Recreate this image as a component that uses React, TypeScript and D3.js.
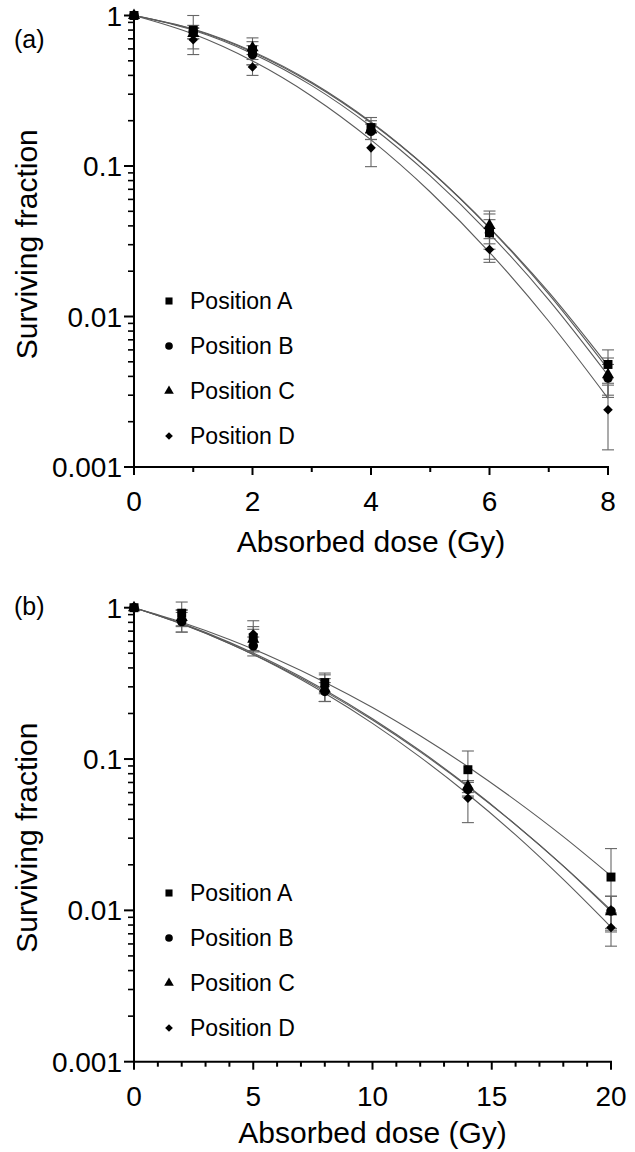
import * as d3 from 'd3';
import React from 'react';

// panel (a): doses up to 8 Gy
const dosesA = [0, 1, 2, 4, 6, 8];
const sfA = {
  A: [1, 0.80, 0.59, 0.18, 0.036, 0.0048],
  B: [1, 0.78, 0.55, 0.17, 0.036, 0.0039],
  C: [1, 0.76, 0.61, 0.175, 0.0403, 0.0041],
  D: [1, 0.69, 0.455, 0.132, 0.0279, 0.0024],
};
const errA = {
  A: [0, 0.20, 0.12, 0.03, 0.012, 0.0012],
  B: [0, 0.08, 0.08, 0.02, 0.008, 0.0009],
  C: [0, 0.06, 0.06, 0.025, 0.0099, 0.0012],
  D: [0, 0.14, 0.055, 0.033, 0.005, 0.0011],
};
const fitDosesA = [0, 1, 2, 3, 4, 5, 6, 7, 8];
const fitA = {
  A: [1, 0.807, 0.571, 0.355, 0.194, 0.093, 0.039, 0.0145, 0.0047],
  B: [1, 0.798, 0.558, 0.342, 0.183, 0.086, 0.0356, 0.0129, 0.00407],
  C: [1, 0.813, 0.578, 0.360, 0.196, 0.093, 0.0387, 0.0141, 0.00448],
  D: [1, 0.753, 0.499, 0.291, 0.149, 0.0672, 0.0267, 0.0093, 0.00286],
};

// panel (b): doses up to 20 Gy
const dosesB = [0, 2, 5, 8, 14, 20];
const sfB = {
  A: [1, 0.92, 0.63, 0.32, 0.085, 0.0166],
  B: [1, 0.81, 0.56, 0.28, 0.063, 0.0099],
  C: [1, 0.86, 0.62, 0.29, 0.066, 0.0098],
  D: [1, 0.83, 0.67, 0.30, 0.055, 0.0077],
};
const errB = {
  A: [0, 0.17, 0.12, 0.05, 0.028, 0.009],
  B: [0, 0.12, 0.08, 0.04, 0.007, 0.0025],
  C: [0, 0.10, 0.10, 0.05, 0.006, 0.0026],
  D: [0, 0.14, 0.15, 0.06, 0.017, 0.0019],
};
const fitDosesB = [0, 2, 4, 6, 8, 10, 12, 14, 16, 18, 20];
const fitB = {
  A: [1, 0.802, 0.617, 0.455, 0.322, 0.219, 0.1424, 0.089, 0.0533, 0.0307, 0.0169],
  B: [1, 0.788, 0.590, 0.421, 0.286, 0.1845, 0.1134, 0.0663, 0.0369, 0.0196, 0.00985],
  C: [1, 0.781, 0.581, 0.413, 0.280, 0.181, 0.1115, 0.0656, 0.0368, 0.0197, 0.01005],
  D: [1, 0.783, 0.581, 0.409, 0.272, 0.172, 0.103, 0.0585, 0.0315, 0.016, 0.00775],
};

const positions = ['A', 'B', 'C', 'D'];
const markerOrder = ['C', 'D', 'B', 'A']; // which marker ends up on top
const legendLabels = ['Position A', 'Position B', 'Position C', 'Position D'];
const yTickLabels = ['0.001', '0.01', '0.1', '1'];

const font = '"Liberation Sans", Arial, Helvetica, sans-serif';

// diamond is drawn as a square turned by 45deg
const symbolTypes = {
  A: d3.symbolSquare,
  B: d3.symbolCircle,
  C: d3.symbolTriangle,
  D: d3.symbolSquare,
};
const symbolRot = { A: 0, B: 0, C: 0, D: 45 };
const markerSize = { A: 80, B: 72, C: 64, D: 46 };
const legendSize = { A: 50, B: 46, C: 40, D: 30 };

function Panel({ label, top, bottom, xMax, xRight, xMajor, xMinor, doses, sf, err, fitDoses, fit, legendTop, labelY, titleOffset }) {
  const x = d3.scaleLinear().domain([0, xMax]).range([134, xRight]);
  const y = d3.scaleLog().domain([0.001, 1]).range([bottom, top]);

  const line = (vals) => d3.line()
    .x((d, i) => x(fitDoses[i]))
    .y(d => y(d))
    .curve(d3.curveMonotoneX)(vals);

  const majorY = [0.001, 0.01, 0.1, 1];
  const minorY = [];
  [0.001, 0.01, 0.1].forEach(dec => {
    for (let k = 2; k <= 9; k++) minorY.push(dec * k);
  });

  const xTicks = d3.range(0, xMax + 0.001, xMinor);

  return (
    <g>
      <text x={14} y={labelY} fontSize={25} fontFamily={font}>{label}</text>

      {/* fitted curves */}
      {positions.map(p => (
        <path key={'f' + p} d={line(fit[p])} fill="none" stroke="#5a5a5a" strokeWidth={1.1} />
      ))}

      {/* error bars */}
      {positions.map(p => (
        <g key={'e' + p} stroke="#666" strokeWidth={1.1}>
          {doses.map((d, i) => {
            if (!err[p][i]) return null;
            const hi = sf[p][i] + err[p][i];
            const lo = Math.max(sf[p][i] - err[p][i], 0.0011);
            return (
              <g key={i}>
                <line x1={x(d)} x2={x(d)} y1={y(hi)} y2={y(lo)} />
                <line x1={x(d) - 6} x2={x(d) + 6} y1={y(hi)} y2={y(hi)} />
                <line x1={x(d) - 6} x2={x(d) + 6} y1={y(lo)} y2={y(lo)} />
              </g>
            );
          })}
        </g>
      ))}

      {/* markers */}
      {markerOrder.map(p => (
        <g key={'m' + p}>
          {doses.map((d, i) => (
            <path key={i}
              transform={`translate(${x(d)},${y(sf[p][i])}) rotate(${symbolRot[p]})`}
              d={d3.symbol().type(symbolTypes[p]).size(markerSize[p])()}
              fill="#000" />
          ))}
        </g>
      ))}

      {/* axes */}
      <line x1={x(0)} x2={x(0)} y1={y(1) - 3} y2={y(0.001) + 1} stroke="#000" strokeWidth={2} />
      <line x1={x(0) - 1} x2={x(xMax) + 1} y1={y(0.001)} y2={y(0.001)} stroke="#000" strokeWidth={2} />
      {majorY.map((v, i) => (
        <g key={'my' + v}>
          <line x1={x(0) - 10} x2={x(0)} y1={y(v)} y2={y(v)} stroke="#000" strokeWidth={2} />
          <text x={122} y={y(v)} dy="0.36em" textAnchor="end" fontSize={28} fontFamily={font}>{yTickLabels[i]}</text>
        </g>
      ))}
      {minorY.map(v => (
        <line key={'ny' + v} x1={x(0) - 6} x2={x(0)} y1={y(v)} y2={y(v)} stroke="#000" strokeWidth={1.6} />
      ))}
      {xTicks.map(v => {
        const major = Math.abs(v % xMajor) < 1e-6;
        return (
          <g key={'x' + v}>
            <line x1={x(v)} x2={x(v)} y1={y(0.001)} y2={y(0.001) + (major ? 8 : 5)} stroke="#000" strokeWidth={2} />
            {major && (
              <text x={x(v)} y={y(0.001) + 44} textAnchor="middle" fontSize={28} fontFamily={font}>{v}</text>
            )}
          </g>
        );
      })}
      <text x={(x(0) + x(xMax)) / 2} y={y(0.001) + titleOffset} textAnchor="middle" fontSize={30} fontFamily={font}>Absorbed dose (Gy)</text>
      <text transform={`translate(37,${(top + bottom) / 2 + 3}) rotate(-90)`} textAnchor="middle" fontSize={30} fontFamily={font}>Surviving fraction</text>

      {/* legend */}
      {positions.map((p, i) => (
        <g key={'l' + p} transform={`translate(169,${legendTop + i * 45})`}>
          <path transform={`rotate(${symbolRot[p]})`} d={d3.symbol().type(symbolTypes[p]).size(legendSize[p])()} fill="#000" />
          <text x={21} y={0} dy="0.36em" fontSize={23} fontFamily={font}>{legendLabels[i]}</text>
        </g>
      ))}
    </g>
  );
}

export default function App() {
  return (
    <svg width={635} height={1152} style={{ position: 'absolute', left: 0, top: 0, background: '#fff' }}>
      <rect width={635} height={1152} fill="#fff" />
      <Panel label="(a)" top={15.5} bottom={467} xMax={8} xRight={608} xMajor={2} xMinor={1}
        doses={dosesA} sf={sfA} err={errA} fitDoses={fitDosesA} fit={fitA} legendTop={301} labelY={48} titleOffset={85} />
      <Panel label="(b)" top={607.7} bottom={1061.7} xMax={20} xRight={611} xMajor={5} xMinor={1}
        doses={dosesB} sf={sfB} err={errB} fitDoses={fitDosesB} fit={fitB} legendTop={893} labelY={615} titleOffset={81} />
    </svg>
  );
}
